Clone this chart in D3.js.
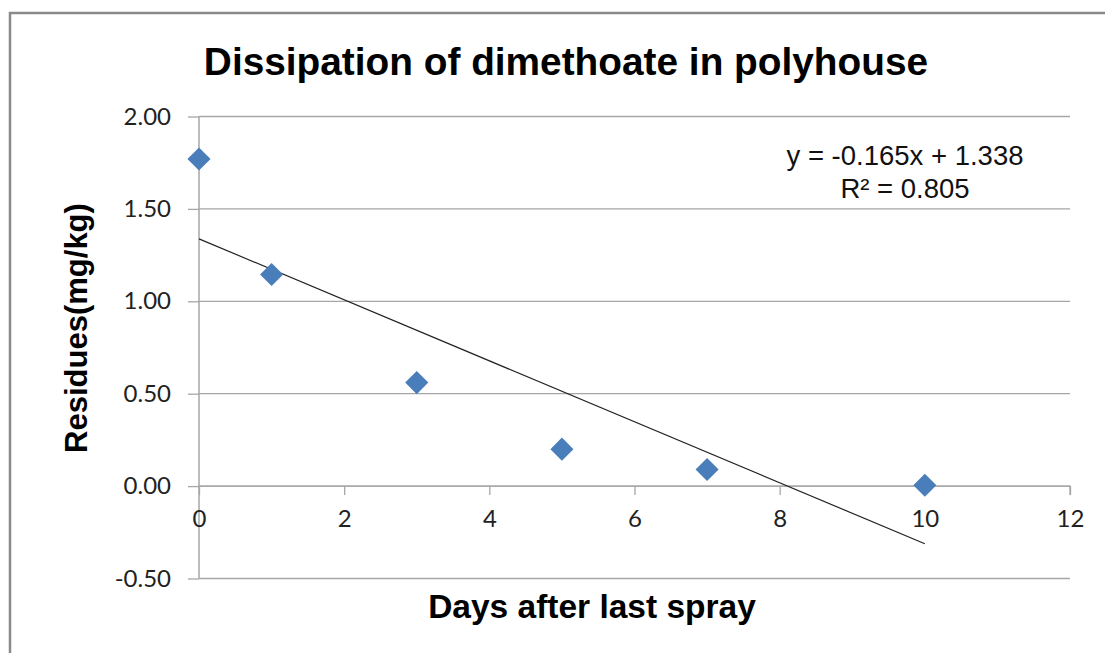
<!DOCTYPE html>
<html><head><meta charset="utf-8">
<script src="https://cdn.jsdelivr.net/npm/d3@7"></script>
<style>body{margin:0;background:#fff}svg{display:block}</style>
</head><body>
<script>
const days = [0, 1, 3, 5, 7, 10];
const residues = [1.77, 1.145, 0.56, 0.20, 0.09, 0.005];
const yTicks = [-0.5, 0, 0.5, 1.0, 1.5, 2.0];
const xTicks = [0, 2, 4, 6, 8, 10, 12];
const slope = -0.165, intercept = 1.338;
const title = "Dissipation of dimethoate in polyhouse";
const xLabel = "Days after last spray";
const yLabel = "Residues(mg/kg)";
const eqLines = ["y = -0.165x + 1.338", "R² = 0.805"];

const W = 1105, H = 653;
const svg = d3.select("body").append("svg").attr("width", W).attr("height", H);
svg.append("rect").attr("width", W).attr("height", H).attr("fill", "#fff");
// outer frame
svg.append("path").attr("d", `M10,${H} L10,13 L${W},13`).attr("fill","none").attr("stroke","#8a8a8a").attr("stroke-width",2.5);

const x = d3.scaleLinear().domain([0, 12]).range([199, 1070]);
const y = d3.scaleLinear().domain([-0.5, 2.0]).range([578.5, 116.5]);
const tickFont = "Lato, 'Open Sans', sans-serif";

// y ticks
const yAxis = d3.axisLeft(y).tickValues(yTicks).tickFormat(d => d3.format(".2f")(d).replace("−", "-")).tickSize(11).tickPadding(17);
const gy = svg.append("g").attr("transform", "translate(199,0)").call(yAxis);
gy.select(".domain").remove();
gy.selectAll(".tick line").attr("stroke", "#a6a6a6").attr("stroke-width", 1.3);
gy.selectAll(".tick text").attr("font-family", tickFont).attr("font-size", 24).attr("fill", "#222");
// gridlines
svg.append("g").selectAll("line").data(yTicks).join("line")
  .attr("x1", 199).attr("x2", 1070).attr("y1", d => y(d)).attr("y2", d => y(d))
  .attr("stroke", "#a6a6a6").attr("stroke-width", 1.3);
// vertical axis line
svg.append("line").attr("x1", 199).attr("x2", 199).attr("y1", y(2.0)).attr("y2", y(-0.5)).attr("stroke", "#a6a6a6").attr("stroke-width", 1.5);

// x axis at y=0
const xAxis = d3.axisBottom(x).tickValues(xTicks).tickFormat(d3.format("d")).tickSize(9).tickPadding(15);
const gx = svg.append("g").attr("transform", `translate(0,${y(0)})`).call(xAxis);
gx.select(".domain").attr("stroke", "#a6a6a6").attr("stroke-width", 1.3).attr("d", `M199,0H1070V9`);
gx.selectAll(".tick line").attr("stroke", "#a6a6a6").attr("stroke-width", 1.3);
gx.selectAll(".tick text").attr("font-family", tickFont).attr("font-size", 24).attr("fill", "#222");

// trendline
svg.append("line")
  .attr("x1", x(0)).attr("y1", y(intercept))
  .attr("x2", x(10)).attr("y2", y(intercept + slope * 10))
  .attr("stroke", "#222").attr("stroke-width", 1.2);

// points
const diamond = d3.symbol().type(d3.symbolDiamond2).size(340);
svg.append("g").selectAll("path").data(days.map((d, i) => [d, residues[i]])).join("path")
  .attr("d", diamond)
  .attr("transform", d => `translate(${x(d[0])},${y(d[1])})`)
  .attr("fill", "#4a7ebb");

// equation
svg.append("g").selectAll("text").data(eqLines).join("text")
  .attr("x", 905).attr("y", (d, i) => 165 + i * 33)
  .attr("text-anchor", "middle")
  .attr("font-family", "'Liberation Sans', Arial, sans-serif").attr("font-size", 27.5).attr("fill", "#111")
  .text(d => d);

// title
svg.append("text").attr("x", 566).attr("y", 75).attr("text-anchor", "middle")
  .attr("font-family", "'Liberation Sans', Arial, sans-serif").attr("font-weight", "bold").attr("font-size", 38.8).attr("fill", "#000")
  .text(title);
// axis titles
svg.append("text").attr("x", 592).attr("y", 618).attr("text-anchor", "middle")
  .attr("font-family", "'Liberation Sans', Arial, sans-serif").attr("font-weight", "bold").attr("font-size", 33.5).attr("fill", "#000")
  .text(xLabel);
svg.append("text").attr("transform", "translate(87,328) rotate(-90)").attr("text-anchor", "middle")
  .attr("font-family", "'Liberation Sans', Arial, sans-serif").attr("font-weight", "bold").attr("font-size", 31).attr("fill", "#000")
  .text(yLabel);
</script>
</body></html>
